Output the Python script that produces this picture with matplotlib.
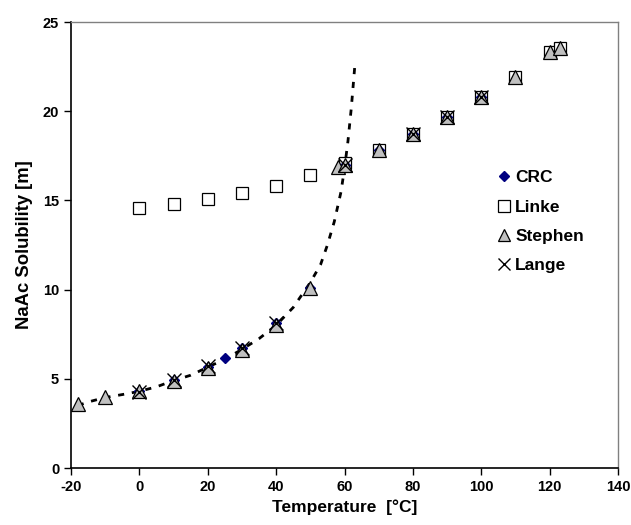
import matplotlib
matplotlib.use("Agg")
import matplotlib.pyplot as plt

# Data
crc_T = [0, 10, 20, 25, 30, 40, 50, 60, 70, 80, 90, 100]
crc_m = [4.3, 4.95, 5.65, 6.15, 6.7, 8.1, 10.1, 17.0, 17.8, 18.7, 19.7, 20.8]

linke_T = [0, 10, 20, 30, 40, 50, 60, 70, 80, 90, 100, 110, 120, 123]
linke_m = [14.55, 14.8, 15.1, 15.4, 15.8, 16.4, 17.1, 17.8, 18.7, 19.7, 20.8, 21.9, 23.3, 23.55]

stephen_T = [-18, -10, 0, 10, 20, 30, 40, 50, 58, 60, 70, 80, 90, 100, 110, 120, 123]
stephen_m = [3.6, 4.0, 4.3, 4.9, 5.6, 6.6, 8.0, 10.1, 16.85, 17.0, 17.8, 18.7, 19.7, 20.8, 21.9, 23.3, 23.55]

lange_T = [0, 10, 20, 30, 40, 60, 80, 90, 100]
lange_m = [4.25, 4.95, 5.7, 6.7, 8.1, 17.0, 18.7, 19.7, 20.8]

# dashed trend curve
fit_T = [-18, -15, -10, -4, 0, 5, 10, 15, 20, 25, 30, 35, 40, 45, 50, 53, 55, 57, 59, 60, 61, 62, 63]
fit_m = [3.5, 3.7, 3.95, 4.15, 4.3, 4.55, 4.9, 5.2, 5.65, 6.1, 6.65, 7.25, 8.0, 9.0, 10.4, 11.4, 12.5, 13.8, 15.5, 16.8, 18.3, 20.2, 22.5]

x_ticks = [-20, 0, 20, 40, 60, 80, 100, 120, 140]
y_ticks = [0, 5, 10, 15, 20, 25]

plt.rcParams['font.family'] = ['Liberation Sans', 'DejaVu Sans']
plt.rcParams['font.weight'] = 'bold'
plt.rcParams['axes.unicode_minus'] = False

fig = plt.figure(figsize=(6.31, 5.25), dpi=100)
ax = fig.add_axes([71/631, 57/525, 547/631, 446/525])

ax.plot(fit_T, fit_m, color='black', lw=2, dashes=(2.2, 2.8), zorder=1)
ax.plot(linke_T, linke_m, ls='none', marker='s', ms=8.8, mfc='white', mec='black', mew=0.9, label='Linke', zorder=2)
ax.plot(crc_T, crc_m, ls='none', marker='D', ms=5.5, mfc='#000080', mec='#000080', label='CRC', zorder=3)
ax.plot(stephen_T, stephen_m, ls='none', marker='^', ms=9.8, mfc='#c0c0c0', mec='black', mew=0.9, label='Stephen', zorder=4)
ax.plot(lange_T, lange_m, ls='none', marker='x', ms=10, mec='black', mew=1.0, label='Lange', zorder=5)

ax.set_xlim(-20, 140)
ax.set_ylim(0, 25)
ax.set_xticks(x_ticks)
ax.set_yticks(y_ticks)
ax.tick_params(axis='both', direction='out', length=5, width=1, labelsize=10.5, color='black')
for lab in ax.get_xticklabels() + ax.get_yticklabels():
    lab.set_fontweight('bold')

for s in ['left', 'bottom']:
    ax.spines[s].set_color('black')
    ax.spines[s].set_linewidth(1.2)
for s in ['top', 'right']:
    ax.spines[s].set_color('#808080')
    ax.spines[s].set_linewidth(1.0)

ax.set_xlabel('Temperature  [°C]', fontsize=12.5, fontweight='bold', labelpad=4)
ax.set_ylabel('NaAc Solubility [m]', fontsize=13.3, fontweight='bold', labelpad=7)

handles, labels = ax.get_legend_handles_labels()
order = [1, 0, 2, 3]
leg = ax.legend([handles[i] for i in order], [labels[i] for i in order],
                loc='upper left', bbox_to_anchor=(0.752, 0.703), frameon=False,
                numpoints=1, handlelength=0.7, handletextpad=0.3, labelspacing=0.82,
                markerscale=0.9, prop={'weight': 'bold', 'size': 12.5})

fig.savefig('out.png', dpi=100)
